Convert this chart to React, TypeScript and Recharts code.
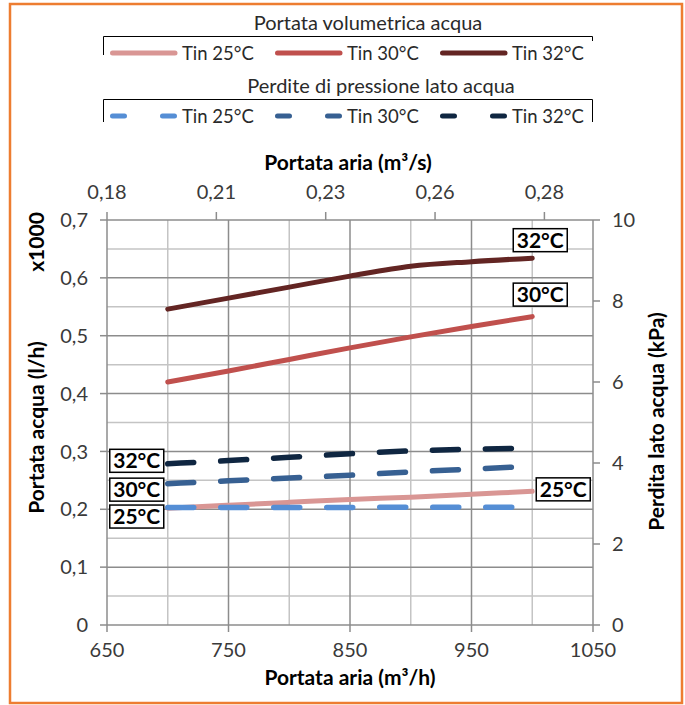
import { ComposedChart, Line, XAxis, YAxis, CartesianGrid, LabelList } from 'recharts'

// air flow (m3/h) where the curves were sampled
const airFlow = [700, 750, 800, 850, 900, 950, 1000]

// water flow (l/h x1000), left axis
const water25 = [0.202, 0.207, 0.212, 0.217, 0.221, 0.226, 0.231]
const water30 = [0.42, 0.439, 0.459, 0.479, 0.498, 0.516, 0.533]
const water32 = [0.546, 0.565, 0.584, 0.603, 0.62, 0.628, 0.634]

// water side pressure drop (kPa), right axis
const drop25 = [2.9, 2.9, 2.9, 2.9, 2.91, 2.91, 2.91]
const drop30 = [3.49, 3.56, 3.63, 3.7, 3.78, 3.85, 3.92]
const drop32 = [3.98, 4.06, 4.14, 4.23, 4.3, 4.34, 4.37]

const bottomTicks = [650, 750, 850, 950, 1050]
const topTicks = [650, 740, 830, 920, 1010] // shown as m3/s
const leftTicks = [0, 0.1, 0.2, 0.3, 0.4, 0.5, 0.6, 0.7]
const rightTicks = [0, 2, 4, 6, 8, 10]

const gridXMinor = [700, 800, 900, 1000]
const gridXMajor = [750, 850, 950]
const gridYMinor = [0.05, 0.15, 0.25, 0.35, 0.45, 0.55, 0.65]
const gridYMajor = [0.1, 0.2, 0.3, 0.4, 0.5, 0.6]

const data = airFlow.map((x, i) => ({
  x,
  q25: water25[i],
  q30: water30[i],
  q32: water32[i],
  dp25: drop25[i],
  dp30: drop30[i],
  dp32: drop32[i],
}))

const FONT = 'Lato, "DejaVu Sans", sans-serif'
const AXIS = '#8c8c8c'
const TICK = { fill: '#3a3a3a', fontSize: 20, fontFamily: FONT }

const flowSeries = [
  { key: 'q25', name: 'Tin 25°C', tag: '25°C', color: '#D99694', at: 6, dx: 31, dy: -2 },
  { key: 'q30', name: 'Tin 30°C', tag: '30°C', color: '#C0504D', at: 6, dx: 8, dy: -22 },
  { key: 'q32', name: 'Tin 32°C', tag: '32°C', color: '#632523', at: 6, dx: 8, dy: -18 },
]

const dropSeries = [
  { key: 'dp25', name: 'Tin 25°C', tag: '25°C', color: '#558ED5', at: 0, dx: -31, dy: 9 },
  { key: 'dp30', name: 'Tin 30°C', tag: '30°C', color: '#376092', at: 0, dx: -31, dy: 6 },
  { key: 'dp32', name: 'Tin 32°C', tag: '32°C', color: '#0F2641', at: 0, dx: -31, dy: -3 },
]

const comma = (v: number) => String(v).replace('.', ',')

function tagBox(tag: string, at: number, dx: number, dy: number) {
  return (props: any) => {
    if (props.index !== at) return null
    const cx = Number(props.x) + dx
    const cy = Number(props.y) + dy
    return (
      <g>
        <rect x={cx - 27} y={cy - 11.5} width={54} height={23} fill="#fff" stroke="#000" strokeWidth={1.5} />
        <text x={cx} y={cy + 7.5} textAnchor="middle" fontSize={21} fontWeight={700} fontFamily={FONT} fill="#000">
          {tag}
        </text>
      </g>
    )
  }
}

const titleStyle = { fontSize: 21, fontWeight: 700, fontFamily: FONT, fill: '#000' }

function TopTitle(props: any) {
  const vb = props.viewBox || { x: 107, y: 150, width: 486, height: 70 }
  return (
    <text x={vb.x + vb.width / 2 - 2} y={vb.y + 20} textAnchor="middle" {...titleStyle}>
      Portata aria (m³/s)
    </text>
  )
}

function BottomTitle(props: any) {
  const vb = props.viewBox || { x: 107, y: 625, width: 486, height: 80 }
  return (
    <text x={vb.x + vb.width / 2} y={vb.y + 60} textAnchor="middle" {...titleStyle}>
      Portata aria (m³/h)
    </text>
  )
}

function LeftTitle(props: any) {
  const vb = props.viewBox || { x: 0, y: 220, width: 107, height: 405 }
  return (
    <g>
      <text transform={`translate(${vb.x + 44}, ${vb.y + vb.height / 2 + 5}) rotate(-90)`} textAnchor="middle" {...titleStyle}>
        Portata acqua (l/h)
      </text>
      <text transform={`translate(${vb.x + 44}, ${vb.y + 22}) rotate(-90)`} textAnchor="middle" {...titleStyle}>
        x1000
      </text>
    </g>
  )
}

function RightTitle(props: any) {
  const vb = props.viewBox || { x: 593, y: 220, width: 92, height: 405 }
  return (
    <text transform={`translate(${vb.x + 71}, ${vb.y + vb.height / 2 - 1}) rotate(-90)`} textAnchor="middle" {...titleStyle}>
      Perdita lato acqua (kPa)
    </text>
  )
}

function LegendBlock({ title, series, top, dashed }: { title: string; series: typeof flowSeries; top: number; dashed: boolean }) {
  return (
    <g fontFamily={FONT} fill="#2a2a2a">
      <text x={dashed ? 381 : 368} y={top - 6} textAnchor="middle" fontSize={20}>
        {title}
      </text>
      <path
        d={dashed ? `M103.5,${top + 23} V${top + 0.5} H592.5 V${top + 23}` : `M103.5,${top + 19} V${top + 0.5} H592.5 V${top + 5}`}
        fill="none"
        stroke="#000"
        strokeWidth={1}
      />
      {series.map((s, i) => {
        const x0 = 110 + i * 165
        const y = top + 17
        return (
          <g key={s.key}>
            <line
              x1={x0 + 2.5}
              x2={x0 + 65}
              y1={y}
              y2={y}
              stroke={s.color}
              strokeWidth={5}
              strokeLinecap="round"
              strokeDasharray={dashed ? '12 38' : undefined}
            />
            <text x={x0 + 72} y={y + 7} fontSize={18.5}>
              {s.name}
            </text>
          </g>
        )
      })}
    </g>
  )
}

export default function App() {
  return (
    <div style={{ position: 'absolute', left: 0, top: 0, width: 685, height: 705, background: '#fff', fontFamily: FONT }}>
      <ComposedChart width={685} height={705} data={data} margin={{ top: 150, right: 0, bottom: 0, left: 0 }}>
        <CartesianGrid stroke="#c4c4c4" strokeWidth={1.5} verticalValues={gridXMinor} horizontalValues={gridYMinor} />
        <CartesianGrid stroke="#8c8c8c" strokeWidth={1.5} verticalValues={gridXMajor} horizontalValues={gridYMajor} />
        <XAxis
          dataKey="x"
          type="number"
          domain={[650, 1050]}
          ticks={bottomTicks}
          height={80}
          tickSize={7}
          tickMargin={11}
          tick={TICK}
          axisLine={{ stroke: AXIS, strokeWidth: 1.5 }}
          tickLine={{ stroke: AXIS, strokeWidth: 1.5 }}
          label={(p: any) => <BottomTitle {...p} />}
        />
        <XAxis
          xAxisId="top"
          orientation="top"
          dataKey="x"
          type="number"
          domain={[650, 1050]}
          ticks={topTicks}
          tickFormatter={(v: number) => (v / 3600).toFixed(2).replace('.', ',')}
          height={70}
          tickSize={8}
          tickMargin={13}
          tick={TICK}
          axisLine={{ stroke: AXIS, strokeWidth: 1.5 }}
          tickLine={{ stroke: AXIS, strokeWidth: 1.5 }}
          label={(p: any) => <TopTitle {...p} />}
        />
        <YAxis
          domain={[0, 0.7]}
          ticks={leftTicks}
          tickFormatter={comma}
          width={107}
          tickSize={7}
          tickMargin={12}
          tick={TICK}
          axisLine={{ stroke: AXIS, strokeWidth: 1.5 }}
          tickLine={{ stroke: AXIS, strokeWidth: 1.5 }}
          label={(p: any) => <LeftTitle {...p} />}
        />
        <YAxis
          yAxisId="right"
          orientation="right"
          domain={[0, 10]}
          ticks={rightTicks}
          width={92}
          tickSize={7}
          tickMargin={12}
          tick={TICK}
          axisLine={{ stroke: AXIS, strokeWidth: 1.5 }}
          tickLine={{ stroke: AXIS, strokeWidth: 1.5 }}
          label={(p: any) => <RightTitle {...p} />}
        />
        {flowSeries.map((s) => (
          <Line
            key={s.key}
            dataKey={s.key}
            type="monotone"
            stroke={s.color}
            strokeWidth={5}
            strokeLinecap="round"
            dot={false}
            activeDot={false}
            isAnimationActive={false}
          >
            <LabelList dataKey={s.key} content={tagBox(s.tag, s.at, s.dx, s.dy)} />
          </Line>
        ))}
        {dropSeries.map((s) => (
          <Line
            key={s.key}
            yAxisId="right"
            dataKey={s.key}
            type="monotone"
            stroke={s.color}
            strokeWidth={5.5}
            strokeDasharray="26 27"
            strokeLinecap="round"
            dot={false}
            activeDot={false}
            isAnimationActive={false}
          >
            <LabelList dataKey={s.key} content={tagBox(s.tag, s.at, s.dx, s.dy)} />
          </Line>
        ))}
      </ComposedChart>
      <svg width={685} height={705} style={{ position: 'absolute', left: 0, top: 0, pointerEvents: 'none' }}>
        <rect x={10} y={4} width={672} height={699} fill="none" stroke="#ED7D31" strokeWidth={2.5} />
        <LegendBlock title="Portata volumetrica acqua" series={flowSeries} top={36} dashed={false} />
        <LegendBlock title="Perdite di pressione lato acqua" series={dropSeries} top={99} dashed={true} />
      </svg>
    </div>
  )
}
